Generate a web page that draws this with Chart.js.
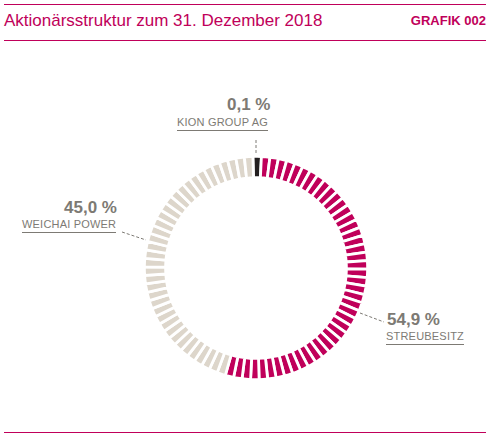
<!DOCTYPE html><html><head><meta charset="utf-8">
<script src="https://cdn.jsdelivr.net/npm/chart.js@4"></script>
<style>
body{margin:0;width:490px;height:440px;position:relative;background:#fff;font-family:"Liberation Sans",Arial,sans-serif;overflow:hidden}
.hl{position:absolute;left:4px;width:482px;height:1px;background:#c0005a}
.t{position:absolute;color:#c0005a;font-size:17px;top:11px}
.v{position:absolute;color:#7d7a74;font-size:17px;font-weight:bold}
.l{position:absolute;color:#7d7a74;font-size:11px;border-bottom:1px solid #7d7a74;padding-bottom:2px;letter-spacing:0.2px}
#wrap{position:absolute;left:143px;top:155px;width:226px;height:226px}
svg{position:absolute;left:0;top:0}
</style></head><body>
<div class="hl" style="top:4px"></div><div class="hl" style="top:40px"></div><div class="hl" style="top:432px;background:#c0005a"></div>
<div class="t" style="left:4px">Aktionärsstruktur zum 31. Dezember 2018</div>
<div class="t" style="right:4px;font-size:13px;font-weight:bold;top:13px">GRAFIK 002</div>
<svg width="490" height="440"><g stroke="#7d7a74" stroke-dasharray="3,2" fill="none">
<line x1="256" y1="140" x2="256" y2="155"/><line x1="122" y1="232" x2="146" y2="240"/><line x1="360" y1="313" x2="384" y2="322"/></g></svg>
<div class="v" style="left:227px;top:95px">0,1 %</div>
<div class="l" style="left:177px;top:116px">KION GROUP AG</div>
<div class="v" style="left:64px;top:198px">45,0 %</div>
<div class="l" style="left:22px;top:218px">WEICHAI POWER</div>
<div class="v" style="left:387px;top:310px">54,9 %</div>
<div class="l" style="left:386px;top:330px">STREUBESITZ</div>
<div id="wrap"><canvas id="c"></canvas></div>
<script>
const labels=["KION GROUP AG","STREUBESITZ","WEICHAI POWER"];
const shares=[0.1,54.9,45.0];
const colors=["#231f20","#c0005a","#ddd6cb"];
const N=82;
const segColors=[];
for(let i=0;i<N;i++){
  if(i===0){segColors.push(colors[0]);continue;}
  const p=(i+0.5)/N*100;
  segColors.push(p<shares[0]+shares[1]?colors[1]:colors[2]);
}
new Chart(document.getElementById('c'),{type:'doughnut',
data:{labels:segColors.map((_,i)=>i),datasets:[{data:new Array(N).fill(1),backgroundColor:segColors,borderColor:'#fff',borderWidth:2.8}]},
options:{responsive:true,maintainAspectRatio:false,animation:false,cutout:'81%',rotation:-1.6,
plugins:{legend:{display:false},tooltip:{enabled:false}},layout:{padding:0}}});
</script></body></html>
